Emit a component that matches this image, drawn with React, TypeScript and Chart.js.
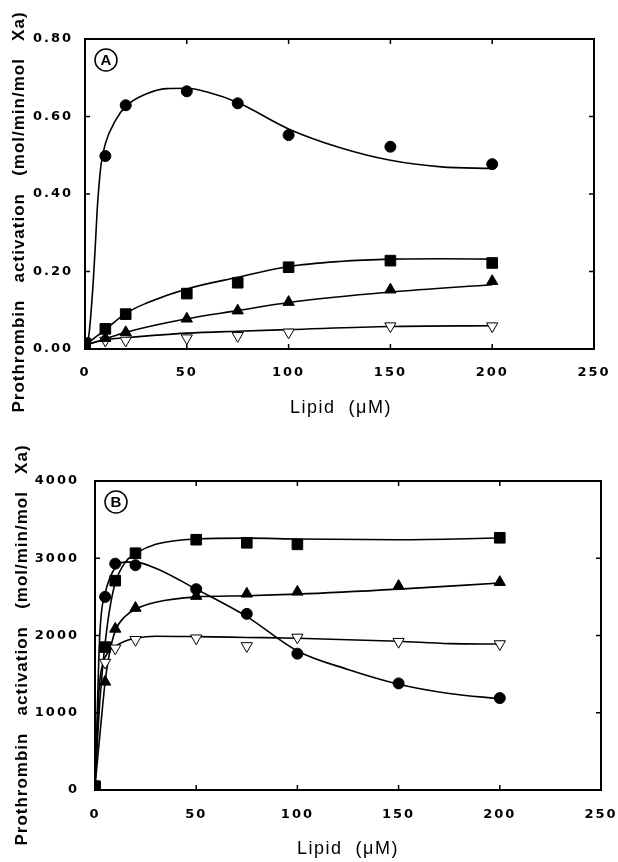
import React, { useEffect, useRef } from "react";
import { Chart, registerables } from "chart.js";

Chart.register(...registerables);

// ---------- shared axis data ----------
const xTickValues = [0, 50, 100, 150, 200, 250];
const xTickLabels = ["0", "50", "100", "150", "200", "250"];

// ---------- Panel A ----------
const yTickValuesA = [0, 0.2, 0.4, 0.6, 0.8];
const yTickLabelsA = ["0.00", "0.20", "0.40", "0.60", "0.80"];

const circleXA = [0, 10, 20, 50, 75, 100, 150, 200];
const circleYA = [0.012, 0.498, 0.629, 0.665, 0.634, 0.552, 0.522, 0.477];
const squareXA = [0, 10, 20, 50, 75, 100, 150, 200];
const squareYA = [0.015, 0.052, 0.09, 0.143, 0.171, 0.211, 0.228, 0.222];
const triXA = [0, 10, 20, 50, 75, 100, 150, 200];
const triYA = [0.01, 0.028, 0.043, 0.078, 0.099, 0.121, 0.153, 0.175];
const openXA = [0, 10, 20, 50, 75, 100, 150, 200];
const openYA = [0.01, 0.022, 0.022, 0.028, 0.034, 0.043, 0.059, 0.059];

const circleFitXA = [0, 2, 4, 5, 6, 7, 8, 10, 15, 20, 30, 40, 50, 60, 75, 100, 125, 150, 175, 200];
const circleFitYA = [0.01, 0.04, 0.17, 0.26, 0.36, 0.43, 0.48, 0.53, 0.59, 0.626, 0.658, 0.672, 0.673, 0.663, 0.636, 0.568, 0.52, 0.487, 0.47, 0.466];
const squareFitXA = [0, 10, 20, 30, 50, 75, 100, 125, 150, 175, 200];
const squareFitYA = [0.01, 0.05, 0.092, 0.118, 0.155, 0.185, 0.213, 0.226, 0.232, 0.233, 0.232];
const triFitXA = [0, 10, 20, 50, 75, 100, 150, 200];
const triFitYA = [0.01, 0.026, 0.043, 0.078, 0.099, 0.12, 0.147, 0.166];
const openFitXA = [0, 10, 20, 50, 75, 100, 150, 200];
const openFitYA = [0.01, 0.024, 0.029, 0.041, 0.046, 0.05, 0.058, 0.06];

// ---------- Panel B ----------
const yTickValuesB = [0, 1000, 2000, 3000, 4000];
const yTickLabelsB = ["0", "1000", "2000", "3000", "4000"];

const circleXB = [0, 5, 10, 20, 50, 75, 100, 150, 200];
const circleYB = [50, 2500, 2930, 2910, 2600, 2280, 1765, 1380, 1190];
const squareXB = [0, 5, 10, 20, 50, 75, 100, 200];
const squareYB = [50, 1850, 2710, 3065, 3240, 3200, 3180, 3265];
const triXB = [0, 5, 10, 20, 50, 75, 100, 150, 200];
const triYB = [50, 1400, 2085, 2355, 2510, 2540, 2565, 2640, 2690];
const openXB = [0, 5, 10, 20, 50, 75, 100, 150, 200];
const openYB = [50, 1650, 1835, 1945, 1965, 1865, 1975, 1920, 1890];

const circleFitXB = [0, 1, 2, 3, 5, 10, 15, 20, 30, 50, 75, 100, 125, 150, 175, 200];
const circleFitYB = [50, 900, 1800, 2250, 2550, 2880, 2950, 2950, 2870, 2600, 2245, 1800, 1560, 1370, 1250, 1182];
const squareFitXB = [0, 2, 4, 5, 7, 10, 15, 20, 30, 50, 75, 100, 150, 200];
const squareFitYB = [50, 1000, 1650, 1900, 2300, 2680, 2950, 3060, 3180, 3250, 3260, 3250, 3240, 3262];
const triFitXB = [0, 2, 4, 5, 7, 10, 15, 20, 30, 50, 75, 100, 150, 200];
const triFitYB = [50, 600, 1150, 1400, 1750, 2060, 2250, 2340, 2430, 2500, 2515, 2535, 2600, 2680];
const openFitXB = [0, 1, 2, 4, 5, 7, 10, 15, 20, 30, 50, 75, 100, 150, 175, 200];
const openFitYB = [50, 700, 1300, 1650, 1720, 1800, 1860, 1930, 1965, 1990, 1985, 1975, 1965, 1925, 1895, 1890];

const yTitle = "Prothrombin   activation   (mol/min/mol   Xa)";
const xTitle = "Lipid  (\u03bcM)";

type PanelCfg = {
  letter: string;
  yTickValues: number[];
  yTickLabels: string[];
  yMax: number;
  series: { xs: number[]; ys: number[]; kind: string }[];
  fits: { xs: number[]; ys: number[] }[];
  layout: { left: number; top: number; right: number; bottom: number };
  yPad: number;
  xPad: number;
  yTitlePos: [number, number];
  xTitlePos: [number, number];
};

const W = 618;
const H = 431;

function pts(xs: number[], ys: number[]) {
  return xs.map((x, i) => ({ x, y: ys[i] }));
}

function markerStyle(kind: string) {
  if (kind === "circle")
    return { pointStyle: "circle", pointRadius: 5.5, backgroundColor: "#000", borderColor: "#000", borderWidth: 1, rotation: 0 };
  if (kind === "rect")
    return { pointStyle: "rect", pointRadius: 7.5, backgroundColor: "#000", borderColor: "#000", borderWidth: 1, rotation: 0 };
  if (kind === "triangle")
    return { pointStyle: "triangle", pointRadius: 6.5, backgroundColor: "#000", borderColor: "#000", borderWidth: 1, rotation: 0 };
  return { pointStyle: "triangle", pointRadius: 6.5, backgroundColor: "#fff", borderColor: "#000", borderWidth: 1, rotation: 180 };
}

function Panel({ cfg }: { cfg: PanelCfg }) {
  const ref = useRef<HTMLCanvasElement | null>(null);
  useEffect(() => {
    if (!ref.current) return;
    const markerSets = cfg.series.map((s) => ({
      data: pts(s.xs, s.ys),
      showLine: false,
      ...markerStyle(s.kind),
    }));
    const fitSets = cfg.fits.map((f) => ({
      data: pts(f.xs, f.ys),
      showLine: true,
      borderColor: "#000",
      borderWidth: 1.6,
      pointRadius: 0,
      cubicInterpolationMode: "monotone",
      fill: false,
    }));
    const { left, top, right, bottom } = cfg.layout;
    const frame = {
      id: "frame",
      beforeDraw(chart: any) {
        chart.ctx.letterSpacing = "2px";
      },
      afterDraw(chart: any) {
        const ctx = chart.ctx;
        const a = chart.chartArea;
        const xs = chart.scales.x;
        const ys = chart.scales.y;
        ctx.save();
        ctx.strokeStyle = "#000";
        ctx.lineWidth = 2;
        ctx.strokeRect(a.left, a.top, a.right - a.left, a.bottom - a.top);
        ctx.lineWidth = 1.5;
        ctx.beginPath();
        xTickValues.slice(1, -1).forEach((v) => {
          const px = xs.getPixelForValue(v);
          ctx.moveTo(px, a.bottom);
          ctx.lineTo(px, a.bottom - 5);
          ctx.moveTo(px, a.top);
          ctx.lineTo(px, a.top + 5);
        });
        cfg.yTickValues.slice(1, -1).forEach((v) => {
          const py = ys.getPixelForValue(v);
          ctx.moveTo(a.left, py);
          ctx.lineTo(a.left + 5, py);
          ctx.moveTo(a.right, py);
          ctx.lineTo(a.right - 5, py);
        });
        ctx.stroke();
        // panel letter
        const cx = a.left + 21;
        const cy = a.top + 21;
        ctx.lineWidth = 1.5;
        ctx.beginPath();
        ctx.arc(cx, cy, 11, 0, Math.PI * 2);
        ctx.stroke();
        ctx.letterSpacing = "0px";
        ctx.fillStyle = "#000";
        ctx.font = 'bold 15px "Liberation Sans"';
        ctx.textAlign = "center";
        ctx.textBaseline = "middle";
        ctx.fillText(cfg.letter, cx, cy + 1);
        // x title
        ctx.letterSpacing = "1.5px";
        ctx.font = '18px "Liberation Sans"';
        ctx.fillText(xTitle, cfg.xTitlePos[0], cfg.xTitlePos[1]);
        // y title
        ctx.save();
        ctx.translate(cfg.yTitlePos[0], cfg.yTitlePos[1]);
        ctx.rotate(-Math.PI / 2);
        ctx.letterSpacing = "1px";
        ctx.font = 'bold 17px "Liberation Sans"';
        ctx.fillText(yTitle, 0, 0);
        ctx.restore();
        ctx.restore();
      },
    };
    const tickFont = { family: "DejaVu Sans", weight: "bold", size: 13 };
    const chart = new Chart(ref.current, {
      type: "scatter",
      data: { datasets: [...markerSets, ...fitSets] as any },
      options: {
        animation: false,
        responsive: false,
        devicePixelRatio: 1,
        layout: { padding: { left: 0, top, right: W - right, bottom: 0 } },
        plugins: { legend: { display: false }, tooltip: { enabled: false } },
        scales: {
          x: {
            type: "linear",
            min: 0,
            max: 250,
            grid: { display: false },
            border: { display: false },
            afterBuildTicks: (s: any) => {
              s.ticks = xTickValues.map((v) => ({ value: v }));
            },
            afterFit: (s: any) => {
              s.height = H - bottom;
              s.paddingLeft = 0;
              s.paddingRight = 0;
            },
            ticks: {
              padding: cfg.xPad,
              color: "#000",
              font: tickFont,
              callback: (v: any) => {
                const i = xTickValues.indexOf(Number(v));
                return i >= 0 ? xTickLabels[i] : "";
              },
            },
          },
          y: {
            type: "linear",
            min: 0,
            max: cfg.yMax,
            grid: { display: false },
            border: { display: false },
            afterBuildTicks: (s: any) => {
              s.ticks = cfg.yTickValues.map((v) => ({ value: v }));
            },
            afterFit: (s: any) => {
              s.width = left;
              s.paddingTop = 0;
              s.paddingBottom = 0;
            },
            ticks: {
              padding: cfg.yPad,
              color: "#000",
              font: tickFont,
              callback: (v: any) => {
                const i = cfg.yTickValues.findIndex((t) => Math.abs(t - Number(v)) < 1e-9);
                return i >= 0 ? cfg.yTickLabels[i] : "";
              },
            },
          },
        },
      } as any,
      plugins: [frame],
    });
    return () => chart.destroy();
  }, [cfg]);
  return <canvas ref={ref} width={W} height={H} style={{ display: "block", width: W, height: H }} />;
}

const panelA: PanelCfg = {
  letter: "A",
  yTickValues: yTickValuesA,
  yTickLabels: yTickLabelsA,
  yMax: 0.8,
  series: [
    { xs: circleXA, ys: circleYA, kind: "circle" },
    { xs: squareXA, ys: squareYA, kind: "rect" },
    { xs: triXA, ys: triYA, kind: "triangle" },
    { xs: openXA, ys: openYA, kind: "open" },
  ],
  fits: [
    { xs: circleFitXA, ys: circleFitYA },
    { xs: squareFitXA, ys: squareFitYA },
    { xs: triFitXA, ys: triFitYA },
    { xs: openFitXA, ys: openFitYA },
  ],
  layout: { left: 85, top: 39, right: 594, bottom: 349 },
  yPad: 4,
  xPad: 8,
  yTitlePos: [19, 212],
  xTitlePos: [341, 408],
};

const panelB: PanelCfg = {
  letter: "B",
  yTickValues: yTickValuesB,
  yTickLabels: yTickLabelsB,
  yMax: 4000,
  series: [
    { xs: circleXB, ys: circleYB, kind: "circle" },
    { xs: squareXB, ys: squareYB, kind: "rect" },
    { xs: triXB, ys: triYB, kind: "triangle" },
    { xs: openXB, ys: openYB, kind: "open" },
  ],
  fits: [
    { xs: circleFitXB, ys: circleFitYB },
    { xs: squareFitXB, ys: squareFitYB },
    { xs: triFitXB, ys: triFitYB },
    { xs: openFitXB, ys: openFitYB },
  ],
  layout: { left: 95, top: 50, right: 601, bottom: 359 },
  yPad: 8,
  xPad: 9,
  yTitlePos: [22, 214],
  xTitlePos: [348, 418],
};

export default function App() {
  return (
    <div style={{ position: "absolute", left: 0, top: 0, width: W, height: 862, background: "#fff" }}>
      <Panel cfg={panelA} />
      <Panel cfg={panelB} />
    </div>
  );
}
